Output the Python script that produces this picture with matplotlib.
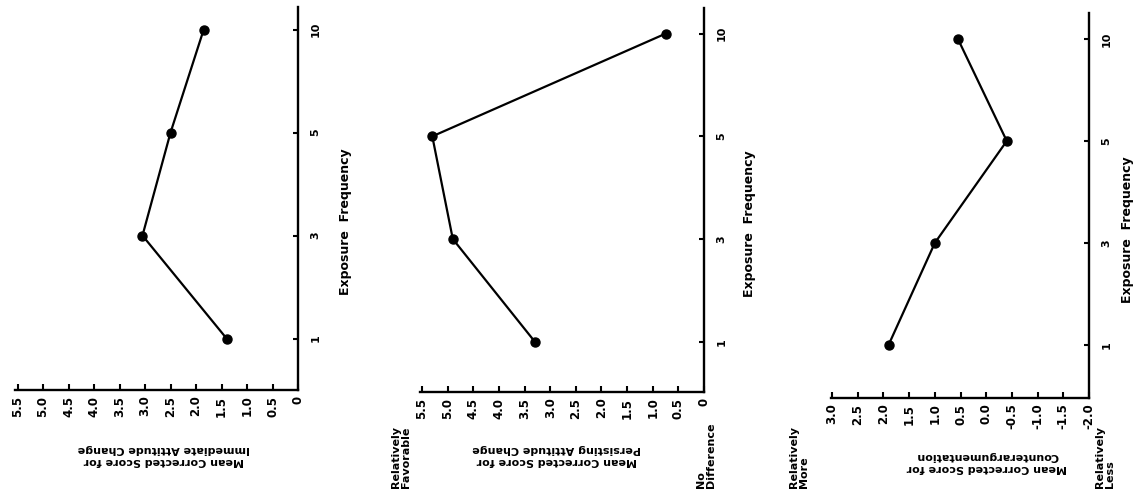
import matplotlib
matplotlib.use("Agg")
import matplotlib.pyplot as plt

W, H = 1137, 499

# ---- data ----
freq_labels = ["1", "3", "5", "10"]
immediate = [1.4, 3.05, 2.5, 1.85]
persisting = [3.3, 4.9, 5.3, 0.75]
counterarg = [1.9, 1.0, -0.4, 0.55]

attitude_ticks = [0, 0.5, 1.0, 1.5, 2.0, 2.5, 3.0, 3.5, 4.0, 4.5, 5.0, 5.5]
attitude_ticklabels = ["0", "0.5", "1.0", "1.5", "2.0", "2.5", "3.0", "3.5",
                       "4.0", "4.5", "5.0", "5.5"]
counter_ticks = [-2.0, -1.5, -1.0, -0.5, 0.0, 0.5, 1.0, 1.5, 2.0, 2.5, 3.0]
counter_ticklabels = ["-2.0", "-1.5", "-1.0", "-0.5", "0.0", "0.5", "1.0",
                      "1.5", "2.0", "2.5", "3.0"]

label_immediate = "Mean Corrected Score for\nImmediate Attitude Change"
label_persisting = "Mean Corrected Score for\nPersisting Attitude Change"
label_counter = "Mean Corrected Score for\nCounterargumentation"
xlabel = "Exposure  Frequency"

FONT = "DejaVu Sans"

fig = plt.figure(figsize=(W / 100, H / 100), dpi=100)


def px_rect(x0, y0, x1, y1):
    return [x0 / W, 1 - y1 / H, (x1 - x0) / W, (y1 - y0) / H]


def fx(x):
    return x / W


def fy(y):
    return 1 - y / H


def make_panel(rect, values, ticks, ticklabels, xlim, ylim):
    ax = fig.add_axes(px_rect(*rect))
    pos = list(range(len(freq_labels)))
    ax.plot(values, pos, color="black", lw=1.6, marker="o", ms=6.5,
            solid_joinstyle="round")
    ax.set_xlim(*xlim)
    ax.set_ylim(*ylim)
    for s in ["left", "top"]:
        ax.spines[s].set_visible(False)
    for s in ["bottom", "right"]:
        ax.spines[s].set_linewidth(1.7)
    ax.yaxis.tick_right()
    ax.set_xticks(ticks)
    ax.set_xticklabels(ticklabels, rotation=90, fontsize=8.5,
                       fontweight="bold", family=FONT)
    ax.set_yticks(pos)
    ax.set_yticklabels(freq_labels, rotation=90, fontsize=8,
                       fontweight="bold", family=FONT, va="center")
    ax.tick_params(axis="x", direction="in", length=4.5, width=1.5, pad=4)
    ax.tick_params(axis="y", direction="in", length=3.5, width=1.5, pad=9)
    ax.patch.set_alpha(0)
    return ax


make_panel((15, 7, 298, 390), immediate, attitude_ticks, attitude_ticklabels,
           (5.55, 0), (-0.5, 3.22))
make_panel((420, 8, 704, 392), persisting, attitude_ticks, attitude_ticklabels,
           (5.54, 0), (-0.49, 3.25))
make_panel((831, 13, 1089, 398), counterarg, counter_ticks, counter_ticklabels,
           (3.02, -2.0), (-0.52, 3.255))

tk = dict(fontweight="bold", family=FONT, color="black")

# Exposure frequency labels (rotated)
for x, y in [(345, 222), (750, 224), (1128, 230)]:
    fig.text(fx(x), fy(y), xlabel, rotation=90, ha="center", va="center",
             fontsize=9, **tk)

# value-axis labels (upside down)
for x, y, s in [(164, 455, label_immediate), (557, 455, label_persisting),
                (987, 462, label_counter)]:
    fig.text(fx(x), fy(y), s, rotation=180, ha="center", va="center",
             fontsize=8, multialignment="center", linespacing=1.3, **tk)

# side annotations
for x, s in [(401, "Relatively\nFavorable"), (706, "No\nDifference"),
             (799, "Relatively\nMore"), (1105, "Relatively\nLess")]:
    fig.text(fx(x), fy(488), s, rotation=90, ha="center", va="bottom",
             fontsize=8, multialignment="left", linespacing=1.05, **tk)

fig.savefig("out.png", dpi=100)
